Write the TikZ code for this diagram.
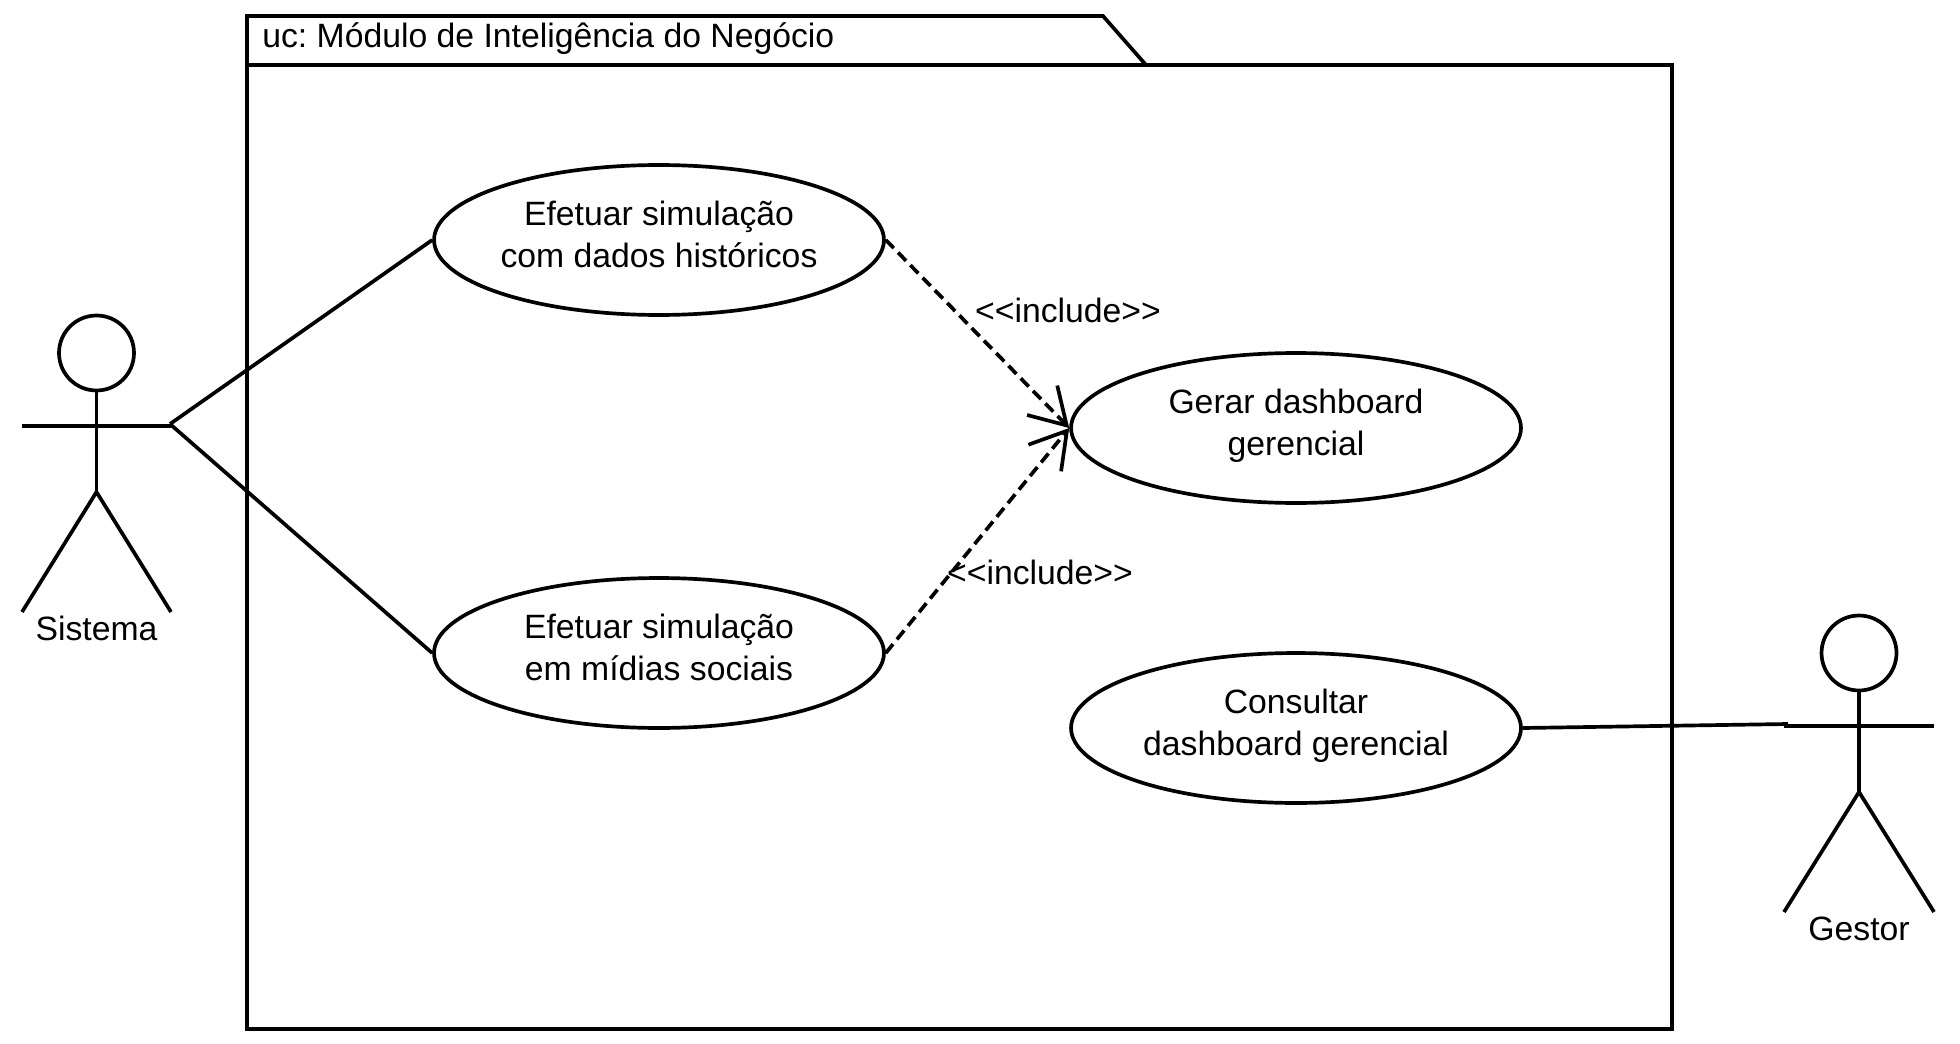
\documentclass[tikz,border=0pt]{standalone}
\usepackage{xcolor}
\usepackage{fontspec}
\setmainfont{Liberation Sans}
\usetikzlibrary{arrows.meta, shapes.geometric}

\begin{document}
\begin{tikzpicture}[
    x=0.02cm, y=-0.02cm,
    ucase/.style={draw, ellipse, line width=2.1pt, minimum width=9cm, minimum height=3cm, inner sep=0pt, align=center, text depth=6.4pt, font=\fontsize{19.2}{23.5}\selectfont\frenchspacing},
    lbl/.style={inner sep=0pt, font=\fontsize{19.2}{23.5}\selectfont\frenchspacing},
    stick/.style={line width=2.1pt},
    head/.style={draw, circle, line width=2.1pt, minimum size=1.5cm, inner sep=0pt},
    incl/.style={line width=2.1pt, dash pattern=on 6.5pt off 3.5pt, -{Straight Barb[length=20pt, width=24pt, line width=2.1pt]}}
]
\useasboundingbox (0,0) rectangle (1960,1044);

% package
\coordinate (tabl) at (247,65);
\coordinate (tabt) at (247,16);
\coordinate (tabr) at (1103,16);
\coordinate (tabf) at (1146,65);
\draw[stick] (tabl) rectangle (1672,1029);
\draw[stick] (tabl) -- (tabt) -- (tabr) -- (tabf);
\node[lbl, anchor=west] (title) at (262,39) {uc: Módulo de Inteligência do Negócio};

% use cases
\node[ucase] (hist) at (659,240) {Efetuar simulação\\com dados históricos};
\node[ucase] (midias) at (659,653) {Efetuar simulação\\em mídias sociais};
\node[ucase] (dash) at (1296,428) {Gerar dashboard\\gerencial};
\node[ucase] (cons) at (1296,728) {Consultar\\dashboard gerencial};

% actors
\node[head] (sishead) at (96.5,353) {};
\coordinate (siship) at (96.5,492);
\coordinate (sisarml) at (22,426);
\coordinate (sisarmr) at (171,426);
\coordinate (sisgrip) at (170,424);
\coordinate (sislegl) at (22,612);
\coordinate (sislegr) at (171,612);
\draw[stick] (sishead) -- (siship);
\draw[stick] (sisarml) -- (sisarmr);
\draw[stick] (sislegl) -- (siship) -- (sislegr);
\node[lbl] (sis) at (96.5,628) {Sistema};

\node[head] (geshead) at (1859,653) {};
\coordinate (geship) at (1859,792);
\coordinate (gesarml) at (1784,726);
\coordinate (gesarmr) at (1934,726);
\coordinate (gesgrip) at (1788,724);
\coordinate (geslegl) at (1784,912);
\coordinate (geslegr) at (1934,912);
\draw[stick] (geshead) -- (geship);
\draw[stick] (gesarml) -- (gesarmr);
\draw[stick] (geslegl) -- (geship) -- (geslegr);
\node[lbl] (ges) at (1859,929) {Gestor};

% connectors
\draw[stick] (sisgrip) -- (hist.west);
\draw[stick] (sisgrip) -- (midias.west);
\draw[stick] (cons.east) -- (gesgrip);
\draw[incl] (hist.east) -- (dash.west);
\draw[incl] (midias.east) -- (dash.west);
\node[lbl] (inc1) at (1068,310) {{<}{<}include{>}{>}};
\node[lbl] (inc2) at (1040,572) {{<}{<}include{>}{>}};
\end{tikzpicture}
\end{document}
